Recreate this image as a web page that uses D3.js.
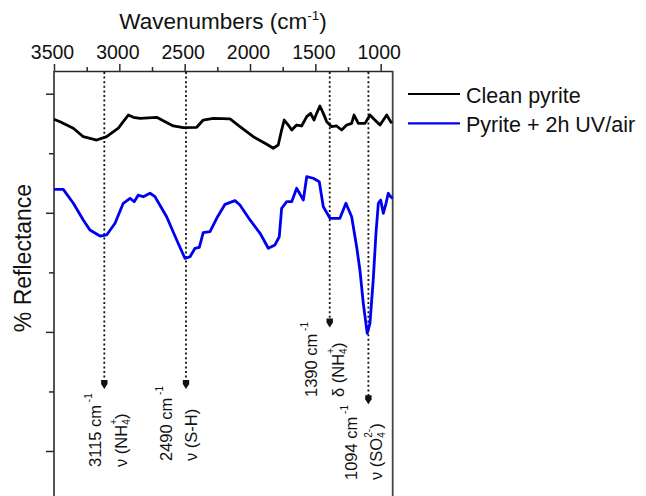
<!DOCTYPE html>
<html>
<head>
<meta charset="utf-8">
<script src="https://cdn.jsdelivr.net/npm/d3@7"></script>
<style>
  html, body { margin: 0; padding: 0; background: #fff; }
  svg { display: block; font-family: "Liberation Sans", Arial, sans-serif; }
</style>
</head>
<body>
<svg id="chart" width="646" height="496"></svg>
<script>
// FTIR reflectance spectra (arbitrary offset units, % reflectance)
const cleanWavenumber = [3500, 3454, 3352, 3276, 3173, 3097, 3008, 2970, 2931, 2893, 2842, 2714, 2664, 2587, 2511, 2408, 2358, 2281, 2153, 2077, 1975, 1872, 1822, 1784, 1758, 1738, 1707, 1681, 1643, 1605, 1566, 1536, 1510, 1490, 1465, 1439, 1413, 1375, 1337, 1299, 1260, 1222, 1204, 1171, 1120, 1082, 1031, 1005, 954, 916];
const cleanReflectance = [27.85, 27.65, 27.10, 26.39, 26.11, 26.39, 27.10, 27.65, 28.21, 28.02, 27.93, 28.02, 27.73, 27.29, 27.15, 27.18, 27.79, 27.93, 27.88, 27.23, 26.39, 25.75, 25.42, 25.69, 26.95, 27.79, 27.37, 26.95, 27.37, 27.29, 28.07, 28.35, 27.79, 28.35, 28.97, 28.35, 27.65, 27.23, 27.29, 26.95, 27.37, 27.51, 28.21, 27.51, 27.51, 28.21, 27.65, 27.37, 28.21, 27.51];

const uvWavenumber = [3500, 3429, 3352, 3276, 3225, 3148, 3097, 3033, 2970, 2918, 2886, 2855, 2817, 2765, 2727, 2638, 2561, 2498, 2459, 2421, 2388, 2358, 2306, 2255, 2191, 2115, 2077, 2000, 1923, 1860, 1809, 1776, 1758, 1719, 1681, 1643, 1592, 1566, 1516, 1470, 1439, 1388, 1312, 1266, 1222, 1184, 1159, 1133, 1103, 1082, 1057, 1036, 1018, 1000, 980, 959, 942, 924, 908];
const uvReflectance = [21.97, 21.97, 20.80, 19.40, 18.56, 18.05, 18.14, 19.12, 20.80, 21.22, 20.93, 21.49, 21.35, 21.64, 21.35, 19.67, 17.72, 16.18, 16.31, 17.02, 17.10, 18.33, 18.41, 19.54, 20.71, 21.02, 20.65, 19.40, 18.28, 17.02, 17.30, 17.99, 20.38, 20.93, 20.93, 22.06, 21.07, 23.03, 22.90, 22.61, 20.51, 19.54, 19.54, 20.80, 19.67, 17.15, 15.20, 12.40, 9.88, 10.72, 14.36, 18.28, 20.80, 21.07, 19.96, 20.80, 21.64, 21.35, 21.22];

const seriesNames = ["Clean pyrite", "Pyrite + 2h UV/air"];

// Band assignments: position, level the arrow reaches, label lines
const bandWavenumber = [3115, 2490, 1390, 1094];
const bandArrowLevel = [5.3, 5.3, 10.45, 4.0];
const bandPositionText = ["3115 cm", "2490 cm", "1390 cm", "1094 cm"];
const bandMode = [
  [{t: "ν (NH"}, {t: "4", sub: true}, {t: "+", sup: true}, {t: ")"}],
  [{t: "ν (S-H)"}],
  [{t: "δ (NH"}, {t: "4", sub: true}, {t: "+", sup: true}, {t: ")"}],
  [{t: "ν (SO"}, {t: "4", sub: true}, {t: "2-", sup: true}, {t: ")"}]
];

const xMajorTicks = [3500, 3000, 2500, 2000, 1500, 1000];
const xMinorTicks = [3250, 2750, 2250, 1750, 1250];
const yMajorTicks = [30, 20, 10, 0];
const yMinorTicks = [25, 15, 5, -5];

// Layout
const plot = {left: 54, right: 392.7, top: 71, bottom: 520};
const labelLayout = [
  {dx1: -9.5, dx2: 17, yStart: 467},
  {dx1: -19.5, dx2: 5.5, yStart: 461},
  {dx1: -18.5, dx2: 8, yStart: 397},
  {dx1: -17, dx2: 8, yStart: 480}
];

const svg = d3.select("#chart");

const x = d3.scaleLinear().domain([3500, 908]).range([plot.left, plot.right]);
const y = d3.scaleLinear().domain([0, 30]).range([451, 93.7]);

const axisColor = "#2a2a2a";

// Top axis: minor ticks then major ticks with labels
const topMinor = svg.append("g")
  .attr("transform", `translate(0,${plot.top})`)
  .call(d3.axisTop(x).tickValues(xMinorTicks).tickSize(4).tickSizeOuter(0).tickFormat(""));
topMinor.select(".domain").remove();
topMinor.selectAll("line").attr("stroke", axisColor).attr("stroke-width", 1.5);

const topMajor = svg.append("g")
  .attr("transform", `translate(0,${plot.top})`)
  .call(d3.axisTop(x).tickValues(xMajorTicks).tickSize(7).tickSizeOuter(0).tickPadding(5).tickFormat(d3.format("d")));
topMajor.select(".domain").attr("stroke", axisColor).attr("stroke-width", 1.6);
topMajor.selectAll("line").attr("stroke", axisColor).attr("stroke-width", 1.5);
topMajor.selectAll("text")
  .attr("font-size", 19.5)
  .attr("font-family", "Liberation Sans, Arial, sans-serif")
  .attr("fill", "#111")
  .attr("dx", -2);

// Left axis: ticks without labels
const leftMinor = svg.append("g")
  .attr("transform", `translate(${plot.left},0)`)
  .call(d3.axisLeft(y).tickValues(yMinorTicks).tickSize(5).tickSizeOuter(0).tickFormat(""));
leftMinor.select(".domain").remove();
leftMinor.selectAll("line").attr("stroke", axisColor).attr("stroke-width", 1.5);

const leftMajor = svg.append("g")
  .attr("transform", `translate(${plot.left},0)`)
  .call(d3.axisLeft(y).tickValues(yMajorTicks).tickSize(8).tickSizeOuter(0).tickFormat(""));
leftMajor.select(".domain").remove();
leftMajor.selectAll("line").attr("stroke", axisColor).attr("stroke-width", 1.5);

// Left and right frame lines
svg.append("line")
  .attr("x1", plot.left).attr("x2", plot.left)
  .attr("y1", plot.top).attr("y2", plot.bottom)
  .attr("stroke", axisColor).attr("stroke-width", 1.6);
svg.append("line")
  .attr("x1", plot.right).attr("x2", plot.right)
  .attr("y1", plot.top).attr("y2", plot.bottom)
  .attr("stroke", "#444").attr("stroke-width", 1.8);

// Axis titles
const title = svg.append("text")
  .attr("x", 223).attr("y", 28.5)
  .attr("text-anchor", "middle")
  .attr("font-size", 22.5)
  .attr("fill", "#111");
title.append("tspan").text("Wavenumbers (cm");
title.append("tspan").attr("font-size", 13.5).attr("dy", -8.5).text("-1");
title.append("tspan").attr("dy", 8.5).text(")");

svg.append("text")
  .attr("transform", "translate(31,258) rotate(-90)")
  .attr("text-anchor", "middle")
  .attr("font-size", 23)
  .attr("fill", "#111")
  .text("% Reflectance");

// Band marker lines with arrowheads
const bands = bandWavenumber.map((wn, i) => ({
  wn, level: bandArrowLevel[i], pos: bandPositionText[i], mode: bandMode[i], layout: labelLayout[i]
}));

const bandG = svg.append("g");
bands.forEach(b => {
  const bx = x(b.wn);
  const by = y(b.level);
  bandG.append("line")
    .attr("x1", bx).attr("x2", bx)
    .attr("y1", plot.top + 1).attr("y2", by - 6)
    .attr("stroke", "#111")
    .attr("stroke-width", 1.8)
    .attr("stroke-dasharray", "2,2.6");
  bandG.append("path")
    .attr("d", `M${bx - 3.2},${by - 8} L${bx + 3.2},${by - 8} L${bx + 3.2},${by - 4} L${bx},${by + 1} L${bx - 3.2},${by - 4} Z`)
    .attr("fill", "#111");
});

// Spectra
const line = d3.line()
  .x(d => x(d[0]))
  .y(d => y(d[1]));

const cleanData = cleanWavenumber.map((w, i) => [w, cleanReflectance[i]]);
const uvData = uvWavenumber.map((w, i) => [w, uvReflectance[i]]);

svg.append("path")
  .datum(cleanData)
  .attr("fill", "none")
  .attr("stroke", "#000")
  .attr("stroke-width", 2.8)
  .attr("stroke-linejoin", "round")
  .attr("d", line);

svg.append("path")
  .datum(uvData)
  .attr("fill", "none")
  .attr("stroke", "#0000f0")
  .attr("stroke-width", 2.8)
  .attr("stroke-linejoin", "round")
  .attr("d", line);

// Band labels (rotated, reading upward)
bands.forEach(b => {
  const bx = x(b.wn);
  const t1 = svg.append("text")
    .attr("transform", `translate(${bx + b.layout.dx1},${b.layout.yStart}) rotate(-90)`)
    .attr("dominant-baseline", "central")
    .attr("font-size", 16.5)
    .attr("fill", "#111");
  t1.append("tspan").text(b.pos);
  t1.append("tspan").attr("font-size", 10).attr("dy", -7).text(" -1");

  const t2 = svg.append("text")
    .attr("transform", `translate(${bx + b.layout.dx2},${b.layout.yStart}) rotate(-90)`)
    .attr("dominant-baseline", "central")
    .attr("font-size", 16.5)
    .attr("fill", "#111");
  let shift = 0;
  b.mode.forEach(part => {
    const ts = t2.append("tspan").text(part.t);
    let target = 0;
    if (part.sub) target = 5;
    if (part.sup) target = -8;
    if (part.sub || part.sup) ts.attr("font-size", 10);
    ts.attr("dy", target - shift);
    shift = target;
  });
  // stack superscripts over the preceding subscript
  t2.selectAll("tspan").each(function(d, k) {
    const part = b.mode[k];
    if (part.sup && k > 0 && b.mode[k - 1].sub) {
      d3.select(this).attr("dx", -5.5);
    }
  });
});

// Legend
const legendColors = ["#000", "#0000f0"];
const legend = svg.append("g");
seriesNames.forEach((name, i) => {
  const ly = 94 + i * 29.3;
  legend.append("line")
    .attr("x1", 408).attr("x2", 460)
    .attr("y1", ly).attr("y2", ly)
    .attr("stroke", legendColors[i])
    .attr("stroke-width", 2.2);
  legend.append("text")
    .attr("x", 466).attr("y", ly + 8.5)
    .attr("font-size", 21.5)
    .attr("fill", "#111")
    .text(name);
});
</script>
</body>
</html>
